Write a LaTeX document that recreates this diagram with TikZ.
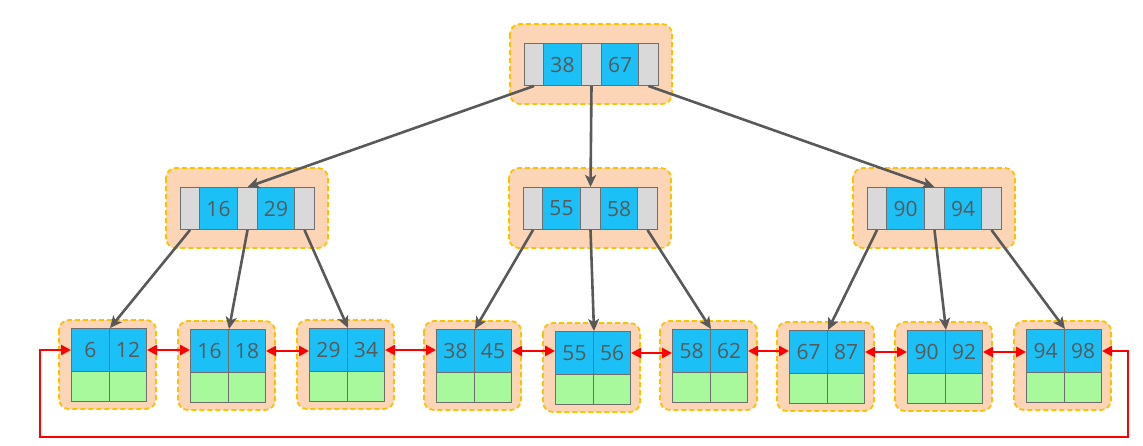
\documentclass[tikz,border=0pt]{standalone}
\usepackage{fontspec}
\setmainfont{Open Sans}
\usetikzlibrary{arrows.meta}
\definecolor{peach}{HTML}{FBD5B5}
\definecolor{gold}{HTML}{FFC000}
\definecolor{cblue}{HTML}{1BC0F7}
\definecolor{cgray}{HTML}{D9D9D9}
\definecolor{cgreen}{HTML}{A8F89C}
\definecolor{cline}{HTML}{6E6E6E}
\definecolor{txt}{HTML}{595959}
\definecolor{garrow}{HTML}{595959}
\tikzset{
  outerbox/.style={fill=peach, draw=gold, line width=1.8pt, dash pattern=on 5pt off 3pt, rounded corners=10pt},
  cellbase/.style={draw=cline, line width=1pt, inner sep=0pt, anchor=north west, font=\fontsize{21}{25}\selectfont, text=txt},
  gcell/.style={cellbase, fill=cgray},
  bcell/.style={cellbase, fill=cblue},
  ecell/.style={cellbase, fill=cgreen},
  treearrow/.style={draw=garrow, line width=2.6pt, -{Stealth[length=12pt,width=11pt,inset=3pt]}},
  linkarrow/.style={draw=red, line width=2.6pt, {Triangle[length=10pt,width=10pt]}-{Triangle[length=10pt,width=10pt]}},
}
% internal node: name, x0, y0, key1, key2
\newcommand\inode[5]{%
  \fill[outerbox] (#2-14,#3-19) rectangle (#2+148,#3+61);
  \node[gcell, minimum width=19pt, minimum height=42pt] (#1g1) at (#2,#3) {};
  \node[bcell, minimum width=38pt, minimum height=42pt] (#1b1) at (#2+19,#3) {#4};
  \node[gcell, minimum width=20pt, minimum height=42pt] (#1g2) at (#2+57,#3) {};
  \node[bcell, minimum width=37pt, minimum height=42pt] (#1b2) at (#2+77,#3) {#5};
  \node[gcell, minimum width=20pt, minimum height=42pt] (#1g3) at (#2+114,#3) {};
}
% leaf: name, x0, y0, key1, key2
\newcommand\leaf[5]{%
  \fill[outerbox] (#2-12,#3-8) rectangle (#2+85,#3+81);
  \node[bcell, minimum width=38pt, minimum height=43pt] (#1a) at (#2,#3) {#4};
  \node[bcell, minimum width=37pt, minimum height=43pt] (#1b) at (#2+38,#3) {#5};
  \node[ecell, minimum width=38pt, minimum height=30pt] (#1c) at (#2,#3+43) {};
  \node[ecell, minimum width=37pt, minimum height=30pt] (#1d) at (#2+38,#3+43) {};
}
\begin{document}
\begin{tikzpicture}[x=1pt,y=-1pt]
\useasboundingbox (0,0) rectangle (1143,445);
% internal nodes
\inode{R}{524}{43}{38}{67}
\inode{A}{180}{187}{16}{29}
\inode{B}{523}{187}{55}{58}
\inode{C}{867}{187}{90}{94}
% leaves
\leaf{La}{71}{328}{6}{12}
\leaf{Lb}{190}{329}{16}{18}
\leaf{Lc}{309}{328}{29}{34}
\leaf{Ld}{436}{329}{38}{45}
\leaf{Le}{555}{331}{55}{56}
\leaf{Lf}{672}{329}{58}{62}
\leaf{Lg}{789}{330}{67}{87}
\leaf{Lh}{907}{330}{90}{92}
\leaf{Li}{1026}{329}{94}{98}
% tree arrows
\draw[treearrow] (Rg1.south) -- (Ag2.north);
\draw[treearrow] (Rg2.south) -- (Bg2.north);
\draw[treearrow] (Rg3.south) -- (Cg2.north);
\draw[treearrow] (Ag1.south) -- (Laa.north east);
\draw[treearrow] (Ag2.south) -- (Lba.north east);
\draw[treearrow] (Ag3.south) -- (Lca.north east);
\draw[treearrow] (Bg1.south) -- (Lda.north east);
\draw[treearrow] (Bg2.south) -- (Lea.north east);
\draw[treearrow] (Bg3.south) -- (Lfa.north east);
\draw[treearrow] (Cg1.south) -- (Lga.north east);
\draw[treearrow] (Cg2.south) -- (Lha.north east);
\draw[treearrow] (Cg3.south) -- (Lia.north east);
% leaf links
\draw[linkarrow] (Lab.east) -- (Lab.east -| Lba.west);
\draw[linkarrow] (Lbb.east) -- (Lbb.east -| Lca.west);
\draw[linkarrow] (Lcb.east) -- (Lcb.east -| Lda.west);
\draw[linkarrow] (Ldb.east) -- (Ldb.east -| Lea.west);
\draw[linkarrow] (Leb.east) -- (Leb.east -| Lfa.west);
\draw[linkarrow] (Lfb.east) -- (Lfb.east -| Lga.west);
\draw[linkarrow] (Lgb.east) -- (Lgb.east -| Lha.west);
\draw[linkarrow] (Lhb.east) -- (Lhb.east -| Lia.west);
\coordinate (bl) at (40,437);
\coordinate (br) at (1128,437);
\draw[linkarrow] (Laa.west) -| (bl) -- (br) |- (Lib.east);
\end{tikzpicture}
\end{document}
